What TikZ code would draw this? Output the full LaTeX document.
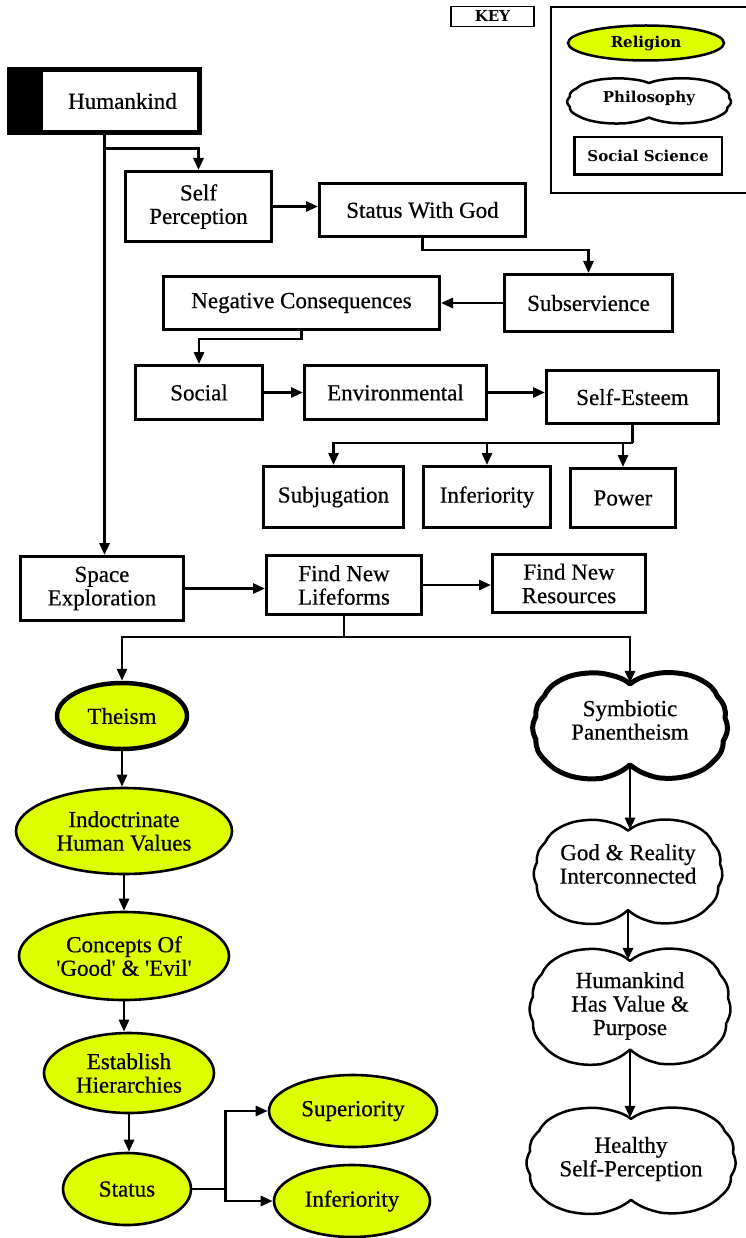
\documentclass[tikz,border=0pt]{standalone}
\usepackage{fontspec}
\setmainfont{Liberation Serif}[Ligatures=TeXOff,FakeBold=0.5]
\newfontfamily\keyfam{DejaVu Serif}
\usetikzlibrary{shapes.geometric,arrows.meta,calc}
\definecolor{yel}{RGB}{222,255,0}
\newcommand\keyf{\keyfam\bfseries\fontsize{15}{17}\selectfont}
\newcommand\mycloud[8]{%
  \begin{scope}[shift={(#2,#3)},xscale=#4,yscale=#5]
    \draw[line width=#6,fill=white,line join=round]
      (0,-0.78) to[bend left=16] (0.22,-0.95) to[bend left=16] (0.5,-0.98)
      to[bend left=16] (0.75,-0.85) to[bend left=16] (0.92,-0.55)
      to[bend left=16] (1.0,-0.15) to[bend left=16] (0.98,0.28)
      to[bend left=16] (0.88,0.65) to[bend left=16] (0.62,0.92)
      to[bend left=16] (0.3,0.96) to[bend left=16] (0,0.72)
      to[bend left=16] (-0.3,0.97) to[bend left=16] (-0.62,0.93)
      to[bend left=16] (-0.88,0.66) to[bend left=16] (-0.99,0.25)
      to[bend left=16] (-0.99,-0.18) to[bend left=16] (-0.9,-0.56)
      to[bend left=16] (-0.72,-0.86) to[bend left=16] (-0.45,-0.98)
      to[bend left=16] (-0.2,-0.94) to[bend left=16] (0,-0.78) -- cycle;
  \end{scope}
  \node[align=center,inner sep=0pt] (#1) at (#2,{#3+#8}) {#7};
  \coordinate (#1-n) at (#2,{#3-0.8*#5});
  \coordinate (#1-s) at (#2,{#3+0.72*#5});
}
\tikzset{
  every node/.style={font=\fontsize{23}{23.5}\selectfont},
  box/.style={draw, line width=3pt, rectangle, inner sep=0pt, align=center, fill=white},
  rel/.style={draw, ellipse, line width=2.6pt, fill=yel, inner sep=0pt, align=center},
  conn/.style={line width=2.8pt},
  arr/.style={line width=2.8pt, -{Triangle[length=12pt,width=10pt]}},
  thin box/.style={draw, line width=1.3pt, rectangle, inner sep=0pt, fill=white}
}
\begin{document}
\begin{tikzpicture}[x=1pt,y=-1pt]
\fill[white] (0,0) rectangle (745,1238);
\useasboundingbox (0,0) rectangle (745,1238);

% ---- key ----
\node[thin box, minimum width=83, minimum height=19.7] (key) at (492.5,16.5) {\keyf KEY};
\draw[line width=1.3pt] (760,7) -- (551,7) -- (551,193) -- (760,193);
\node[rel, line width=2.5pt, minimum width=156, minimum height=35] (krel) at (646,43) {\keyf Religion};
\mycloud{kphil}{649}{101}{80}{23}{2.5pt}{\keyf Philosophy}{-3}
\node[box, line width=2.5pt, minimum width=147.5, minimum height=37.5] (ksoc) at (648,156) {\keyf Social Science};

% ---- top boxes ----
\node[draw, line width=5pt, fill=white, inner sep=0pt, minimum width=190, minimum height=63,
  path picture={\fill[black] (path picture bounding box.north west) rectangle ([xshift=33pt]path picture bounding box.south west);}]
  (hk) at (104.5,101) {\hspace*{36pt}Humankind};

\node[box, minimum width=146, minimum height=70] (sp) at (198.5,206.5) {Self\\Perception};
\node[box, minimum width=206, minimum height=53] (swg) at (422.5,210) {Status With God};
\node[box, minimum width=168, minimum height=57] (sub) at (588.5,303) {Subservience};
\node[box, minimum width=276, minimum height=53] (nc) at (301.5,303) {Negative Consequences};
\node[box, minimum width=127, minimum height=54] (soc) at (199,392.5) {Social};
\node[box, minimum width=182, minimum height=54] (env) at (395.5,392.5) {Environmental};
\node[box, minimum width=172, minimum height=53] (ses) at (632.5,397) {Self-Esteem};
\node[box, minimum width=140, minimum height=61] (subj) at (333.5,497) {Subjugation};
\node[box, minimum width=127, minimum height=61] (infb) at (487,497) {Inferiority};
\node[box, minimum width=105, minimum height=59] (pow) at (623,498) {Power};
\node[box, minimum width=163, minimum height=64] (spx) at (102,588.5) {Space\\Exploration};
\node[box, minimum width=155, minimum height=59] (fnl) at (344,585) {Find New\\Lifeforms};
\node[box, minimum width=153, minimum height=58] (fnr) at (569,583.5) {Find New\\Resources};

% ---- religion branch ----
\node[rel, line width=4.5pt, minimum width=130, minimum height=66] (the) at (122,716) {Theism};
\node[rel, minimum width=216, minimum height=86] (ind) at (124,831) {Indoctrinate\\Human Values};
\node[rel, minimum width=210, minimum height=88] (con) at (124,956) {Concepts Of\\'Good' \& 'Evil'};
\node[rel, minimum width=170, minimum height=80] (est) at (129,1073) {Establish\\Hierarchies};
\node[rel, minimum width=128, minimum height=72] (sta) at (127,1189) {Status};
\node[rel, minimum width=168, minimum height=72] (sup) at (353,1111) {Superiority};
\node[rel, minimum width=156, minimum height=72] (infe) at (352,1201) {Inferiority};

% ---- philosophy branch ----
\mycloud{c1}{630}{726}{95}{54}{5pt}{Symbiotic\\Panentheism}{-6}
\mycloud{c2}{628}{872}{92}{53}{2.5pt}{God \& Reality\\Interconnected}{-8}
\mycloud{c3}{630}{1007}{98}{59}{2.5pt}{Humankind\\Has Value \&\\Purpose}{-1}
\mycloud{c4}{631}{1161}{102}{54}{2.5pt}{Healthy\\Self-Perception}{-2}

% ---- connectors ----
\draw[arr] (hk.south) -- (hk.south |- spx.north);
\draw[arr] ($(hk.south)+(0,13.5)$) -| (sp.north);
\draw[arr] (sp.east) -- (sp.east -| swg.west);
\draw[arr] (swg.south) -- ++(0,12) -| (sub.north);
\draw[arr] (sub.west) -- (nc.east);
\draw[arr] (nc.south) -- ++(0,8) -| (soc.north);
\draw[arr] (soc.east) -- (env.west);
\draw[arr] (env.east) -- (env.east -| ses.west);
\draw[conn] (ses.south) -- ++(0,18) coordinate (sj);
\draw[arr] (sj) -| (subj.north);
\draw[arr] (sj -| infb.north) -- (infb.north);
\draw[arr] (sj -| pow.north) -- (pow.north);
\draw[arr] (spx.east) -- (spx.east -| fnl.west);
\draw[arr] (fnl.east) -- (fnl.east -| fnr.west);
\draw[conn] (fnl.south) -- ++(0,21) coordinate (fj);
\draw[arr] (fj) -| (the.north);
\draw[arr] (fj) -| (c1-n);
\draw[arr] (the.south) -- (the.south |- ind.north);
\draw[arr] (ind.south) -- (con.north);
\draw[arr] (con.south) -- (con.south |- est.north);
\draw[arr] (est.south) -- (est.south |- sta.north);
\draw[conn] (sta.east) -- ++(33,0) coordinate (tj);
\draw[arr] (tj) |- (sup.west);
\draw[arr] (tj) |- (infe.west);
\draw[arr] (c1-s) -- (c1-s |- c2-n);
\draw[arr] (c2-s) -- (c2-s |- c3-n);
\draw[arr] (c3-s) -- (c3-s |- c4-n);
\end{tikzpicture}
\end{document}
